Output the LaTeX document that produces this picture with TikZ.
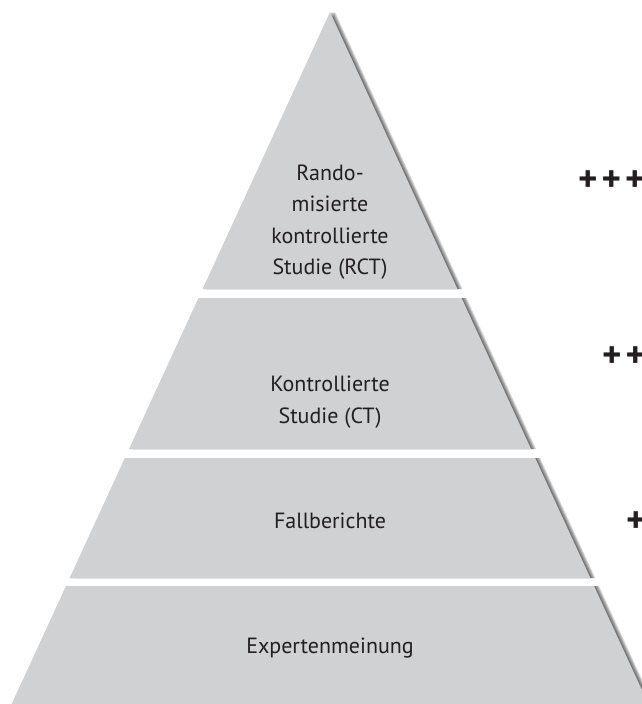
\documentclass[tikz,border=0pt]{standalone}
\usepackage{fontspec}
\setmainfont{PT Sans}
\definecolor{bandfill}{RGB}{208,209,211}
\definecolor{ink}{RGB}{35,31,32}
\newcommand\bandpath[2]{({330-0.46*(#1-12)},#1) -- ({330+0.46*(#1-12)},#1) -- ({330+0.46*(#2-12)},#2) -- ({330-0.46*(#2-12)},#2) -- cycle}
\tikzset{
  lbl/.style={text=ink, align=center, inner sep=0pt, font=\fontsize{22}{31.5}\selectfont},
  plus/.style={text=ink, anchor=west, inner sep=0pt, font=\fontsize{37}{37}\bfseries\selectfont},
}
\begin{document}
\begin{tikzpicture}[x=1pt,y=-1pt]
\useasboundingbox (0,0) rectangle (642,704);
\clip (0,0) rectangle (642,704);
\foreach \a/\b in {12/289, 298/449, 458/578, 586/720}{
  \foreach \d in {1,2,3,4,5}{
    \fill[black, opacity=0.15, xshift=\d pt] \bandpath{\a}{\b};
  }
  \fill[bandfill] \bandpath{\a}{\b};
}
\node[lbl] (rct) at (330,222) {Rando-\\misierte\\kontrollierte\\Studie (RCT)};
\node[lbl] (ct) at (330,402) {Kontrollierte\\Studie (CT)};
\node[lbl] (fb) at (330,521) {Fallberichte};
\node[lbl] (ex) at (330,648) {Expertenmeinung};
\node[plus] (p3) at (578,181) {+\kern4pt+\kern4pt+};
\node[plus] (p2) at (602,357) {+\kern4pt+};
\node[plus] (p1) at (626,522) {+};
\end{tikzpicture}
\end{document}
